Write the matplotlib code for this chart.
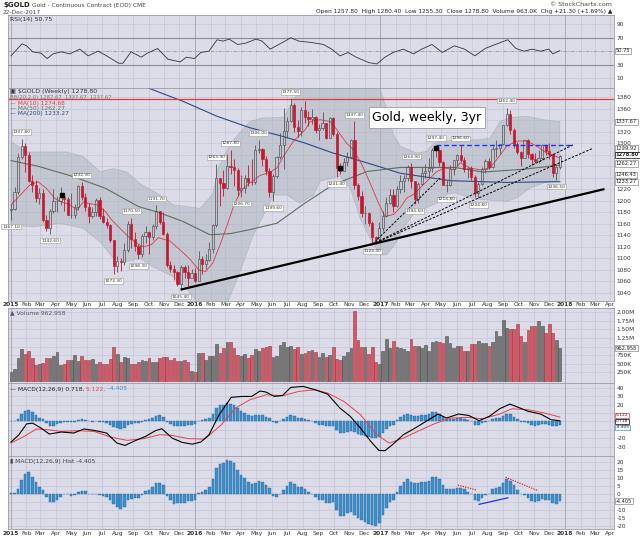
import numpy as np
import pandas as pd
import matplotlib
matplotlib.use("Agg")
import matplotlib.pyplot as plt

# weekly $GOLD bars: week ending Fri 2 Jan 2015 ... Fri 22 Dec 2017
opens = [1184, 1186, 1216, 1277, 1295, 1279, 1234, 1228, 1205, 1213, 1167, 1152, 1183, 1199, 1200, 1207, 1203, 1175,
         1176, 1189, 1225, 1206, 1190, 1173, 1180, 1201, 1173, 1164, 1158, 1131, 1086, 1095, 1094, 1114, 1160, 1134,
         1121, 1108, 1139, 1146, 1137, 1156, 1182, 1163, 1142, 1088, 1081, 1076, 1056, 1085, 1076, 1065, 1075,
         1060, 1098, 1090, 1097, 1116, 1158, 1239, 1231, 1222, 1260, 1259, 1254, 1218, 1222, 1239, 1233, 1232, 1289,
         1290, 1273, 1252, 1216, 1243, 1276, 1297, 1322, 1339, 1366, 1328, 1322, 1358, 1345, 1343, 1345, 1324, 1327,
         1335, 1310, 1344, 1317, 1257, 1252, 1267, 1276, 1305, 1227, 1209, 1178, 1178, 1161, 1137, 1134,
         1152, 1173, 1197, 1210, 1191, 1220, 1234, 1240, 1258, 1234, 1204, 1230, 1249, 1251, 1257, 1289, 1289, 1268,
         1228, 1228, 1256, 1271, 1280, 1271, 1256, 1257, 1242, 1213, 1229, 1255, 1269, 1258, 1290, 1292, 1298, 1331,
         1351, 1324, 1298, 1285, 1275, 1305, 1281, 1272, 1269, 1274, 1297, 1287, 1281, 1248, 1258]
highs = [1194, 1224, 1283, 1308, 1300, 1285, 1245, 1236, 1223, 1221, 1175, 1186, 1220, 1208, 1224, 1209, 1207, 1214,
         1194, 1227, 1232, 1214, 1196, 1190, 1205, 1206, 1187, 1170, 1160, 1131, 1104, 1100, 1126, 1165, 1170, 1146,
         1125, 1143, 1157, 1147, 1159, 1192, 1182, 1180, 1145, 1095, 1089, 1078, 1089, 1088, 1088, 1082, 1083,
         1112, 1104, 1108, 1128, 1160, 1264, 1240, 1253, 1282, 1288, 1272, 1257, 1245, 1245, 1262, 1272, 1297, 1306,
         1291, 1278, 1257, 1246, 1278, 1318, 1362, 1345, 1378, 1370, 1340, 1364, 1373, 1357, 1360, 1348, 1334, 1355,
         1336, 1345, 1346, 1320, 1265, 1275, 1285, 1308, 1338, 1231, 1217, 1191, 1181, 1165, 1138, 1163,
         1182, 1207, 1220, 1221, 1226, 1245, 1245, 1263, 1265, 1235, 1232, 1259, 1264, 1274, 1291, 1297, 1290, 1270,
         1236, 1262, 1271, 1282, 1297, 1276, 1259, 1260, 1245, 1233, 1258, 1272, 1275, 1295, 1306, 1298, 1332, 1362,
         1358, 1326, 1302, 1286, 1306, 1307, 1284, 1284, 1288, 1298, 1299, 1300, 1283, 1263, 1280]
lows = [1167, 1184, 1211, 1273, 1250, 1232, 1216, 1198, 1195, 1163, 1147, 1143, 1179, 1180, 1192, 1183, 1175, 1170,
        1170, 1184, 1201, 1182, 1162, 1170, 1173, 1168, 1162, 1152, 1128, 1072, 1077, 1078, 1088, 1111, 1118, 1112,
        1098, 1102, 1126, 1108, 1131, 1151, 1160, 1140, 1085, 1077, 1062, 1052, 1045, 1066, 1050, 1065, 1058,
        1060, 1073, 1082, 1096, 1110, 1155, 1191, 1208, 1220, 1247, 1226, 1208, 1207, 1213, 1226, 1227, 1230, 1283,
        1260, 1245, 1207, 1200, 1240, 1272, 1256, 1309, 1337, 1320, 1311, 1313, 1335, 1330, 1333, 1318, 1305, 1323,
        1308, 1310, 1313, 1241, 1247, 1251, 1260, 1275, 1220, 1202, 1172, 1160, 1156, 1124, 1125, 1130,
        1148, 1172, 1194, 1181, 1190, 1214, 1216, 1235, 1223, 1195, 1197, 1228, 1240, 1240, 1250, 1276, 1260, 1227,
        1215, 1226, 1245, 1260, 1267, 1250, 1240, 1236, 1207, 1205, 1228, 1248, 1256, 1257, 1276, 1281, 1297, 1330,
        1317, 1291, 1282, 1261, 1274, 1275, 1263, 1265, 1265, 1271, 1280, 1273, 1242, 1237, 1255]
closes = [1186, 1216, 1277, 1295, 1279, 1234, 1228, 1205, 1213, 1167, 1152, 1183, 1199, 1200, 1207, 1203, 1175, 1176,
          1189, 1225, 1206, 1190, 1173, 1180, 1201, 1173, 1164, 1158, 1131, 1086, 1095, 1094, 1114, 1160, 1134, 1121,
          1108, 1139, 1146, 1137, 1156, 1182, 1163, 1142, 1088, 1081, 1076, 1056, 1085, 1076, 1065, 1075, 1060,
          1098, 1090, 1097, 1116, 1158, 1239, 1231, 1222, 1260, 1259, 1254, 1218, 1222, 1239, 1233, 1232, 1289, 1290,
          1273, 1252, 1216, 1243, 1276, 1297, 1322, 1339, 1366, 1328, 1322, 1358, 1345, 1343, 1345, 1324, 1327, 1335,
          1310, 1344, 1317, 1257, 1252, 1267, 1276, 1305, 1227, 1209, 1178, 1178, 1161, 1137, 1134, 1152,
          1173, 1197, 1210, 1191, 1220, 1234, 1240, 1258, 1234, 1204, 1230, 1249, 1251, 1257, 1289, 1289, 1268, 1228,
          1228, 1256, 1271, 1280, 1271, 1256, 1257, 1242, 1213, 1229, 1255, 1269, 1258, 1290, 1292, 1298, 1331, 1351,
          1324, 1298, 1285, 1275, 1305, 1281, 1272, 1269, 1274, 1297, 1287, 1281, 1248, 1258, 1278.8]
volume_m = [0.27, 0.36, 0.67, 0.94, 0.78, 0.86, 0.67, 0.46, 0.48, 0.52, 0.67, 0.66, 0.72, 0.84, 0.47, 0.50, 0.60, 0.60,
            0.74, 0.57, 0.72, 0.62, 0.62, 0.64, 0.48, 0.54, 0.50, 0.50, 0.64, 0.98, 0.78, 0.56, 0.70, 0.68, 0.50, 0.50,
            0.54, 0.60, 0.58, 0.68, 0.56, 0.56, 0.68, 0.70, 0.70, 0.62, 0.68, 0.58, 0.58, 0.62, 0.56, 0.30, 0.27,
            0.80, 0.80, 0.62, 0.72, 0.72, 1.06, 0.80, 0.95, 1.12, 1.12, 0.95, 0.75, 0.72, 0.78, 0.66, 0.76, 0.92, 0.88,
            0.95, 1.00, 1.02, 0.70, 0.72, 1.05, 1.12, 1.00, 1.02, 0.92, 1.00, 0.78, 0.82, 0.86, 0.90, 0.85, 0.70, 0.82,
            0.70, 0.76, 1.00, 0.65, 0.60, 0.72, 0.85, 0.95, 2.02, 1.20, 1.00, 1.00, 0.78, 0.98, 0.55, 0.50,
            0.88, 1.22, 0.95, 1.15, 0.98, 0.96, 0.92, 0.88, 1.22, 1.02, 1.02, 0.95, 1.05, 0.86, 1.12, 1.15, 1.12, 1.10,
            1.30, 1.10, 0.95, 1.02, 1.02, 0.88, 0.88, 1.06, 1.08, 1.15, 1.10, 1.10, 1.02, 1.12, 1.45, 1.30, 1.77, 1.55,
            1.50, 1.50, 1.65, 1.30, 1.12, 1.48, 1.60, 1.60, 1.73, 1.60, 1.40, 1.65, 1.38, 1.18, 0.963]
macd_hist = [0.8, 1.0, 3.0, 8.9, 12.7, 13.8, 11.0, 7.8, 4.2, 2.5, -1.7, -4.9, -4.9, -3.4, -1.7, -0.2, -0.2, -1.3,
             -0.8, 1.5, 2.3, 1.7, 0.0, -0.2, 0.4, -0.4, -1.0, -1.7, -3.8, -6.4, -8.0, -9.5, -8.0, -3.8, -2.8, -2.1,
             -2.1, -0.6, 2.1, 2.5, 4.2, 6.8, 7.2, 5.7, -1.1, -3.4, -5.9, -5.5, -5.5, -5.3, -4.2, -4.2, -3.4,
             0.8, 1.1, 2.5, 4.2, 9.3, 16.3, 19.0, 19.5, 21.6, 21.0, 19.9, 15.3, 11.9, 10.0, 7.8, 6.1, 7.2, 8.0,
             7.4, 5.7, 3.6, -1.3, -1.7, 0.4, 2.5, 5.1, 7.6, 6.1, 4.2, 4.2, 3.2, 1.5, 0.4, -1.7, -3.8, -3.8,
             -5.3, -5.3, -4.9, -10.0, -13.5, -14.0, -12.0, -11.0, -13.0, -15.0, -16.0, -17.5, -18.5, -19.5, -20.0, -18.0,
             -13.3, -8.5, -4.9, -3.8, 1.5, 5.1, 7.8, 9.3, 7.8, 6.8, 6.8, 7.6, 7.8, 8.5, 10.6, 11.0, 9.3, 5.7,
             3.0, 3.0, 3.4, 4.0, 4.0, 3.0, 1.5, 0.0, -3.8, -4.2, -2.1, -0.8, 0.4, 3.0, 3.6, 4.2, 6.8, 9.3,
             8.5, 5.7, 2.5, -0.2, -0.4, -2.5, -4.2, -5.1, -4.2, -3.2, -3.4, -3.8, -5.5, -5.9, -4.405]

# indicator lines at sample weeks
ma10_wk = [0, 5.4, 7.7, 10.1, 12.4, 14.3, 16.7, 18.6, 20.4, 22.3, 24.2, 26.6, 28.4, 30.8, 33.1, 35.5, 37.4, 39.7,
           41.6, 44.9, 47.7, 50.6, 53, 55, 57, 59, 61, 63, 65, 67.5, 70.3, 73.2, 75.1, 76.9, 79.7, 83.1, 84.5, 87.3,
           90.1, 92, 94.8, 96.7, 99.1, 101.4, 103.8, 105.6, 108, 109.9, 111.8, 113.6, 115.5, 117.9, 120.3, 122.6,
           125.4, 126.8, 129.7, 132.5, 135.3, 137.2, 140, 142.9, 145.7, 148.5, 151.3, 155]
ma10_val = [1193, 1228, 1233, 1221, 1204, 1198, 1193, 1184, 1198, 1195, 1193, 1182, 1167, 1152, 1138, 1126, 1120, 1124,
            1136, 1130, 1115, 1098, 1080, 1077, 1092, 1123, 1157, 1193, 1218, 1231, 1244, 1250, 1257, 1277, 1303,
            1324, 1338, 1341, 1338, 1324, 1300, 1289, 1263, 1231, 1196, 1173, 1176, 1188, 1205, 1211, 1222, 1237,
            1251, 1257, 1254, 1266, 1257, 1254, 1257, 1272, 1295, 1304, 1304, 1295, 1283, 1274.68]
ma50_wk = [0, 7.7, 17.1, 26.6, 36, 41.6, 48.6, 56.2, 62, 67.5, 75.1, 83, 91, 100.6, 109.9, 118, 125.4, 133.3, 145, 155]
ma50_val = [1270, 1260, 1243, 1222, 1190, 1180, 1164, 1141, 1143, 1150, 1161, 1196, 1228, 1251, 1258, 1258, 1258,
            1250, 1255, 1262.27]
ma200_wk = [35, 48.6, 58.2, 67.5, 76.8, 83, 91, 100.6, 109.9, 124, 140, 155]
ma200_val = [1405, 1373, 1347, 1327, 1312, 1300.5, 1283, 1266, 1248, 1235, 1232, 1233.27]
bb_up_wk = [0, 4.4, 15.7, 20.4, 25.1, 28.9, 32.7, 36.4, 42.1, 45.8, 53.4, 57, 58.5, 62, 67.5, 71, 77, 80, 83, 104,
            106, 108, 110, 114.6, 117.4, 119.3, 125.4, 131.6, 135.3, 138.1, 141, 145.7, 150.4, 155]
bb_up_val = [1303, 1285, 1285, 1277, 1251, 1256, 1250, 1230, 1210, 1193, 1187, 1212, 1257, 1300, 1338, 1344, 1345,
             1378, 1400, 1400, 1361, 1315, 1295, 1283, 1286, 1300, 1306, 1306, 1309, 1338, 1345, 1347, 1341, 1337.67]
bb_lo_wk = [0, 6.3, 13.8, 20.4, 25.1, 28.9, 32.7, 36.4, 40.2, 45.8, 49.6, 53, 58, 61, 64.7, 68.4, 71.3, 74.1, 77.9,
            81.6, 85.4, 87.3, 92.9, 95.8, 98.6, 101.4, 104.2, 106.1, 109, 110.8, 113.6, 117.4, 120.3, 123.1, 125.4,
            129.7, 133.4, 140, 142.9, 146.6, 150.4, 155]
bb_lo_val = [1158, 1155, 1161, 1152, 1129, 1100, 1094, 1100, 1085, 1068, 1048, 1020, 1015, 1020, 1077, 1140, 1175,
             1210, 1210, 1196, 1210, 1234, 1243, 1222, 1170, 1135, 1106, 1106, 1130, 1153, 1176, 1188, 1196, 1211,
             1214, 1205, 1202, 1199, 1205, 1222, 1231, 1236]
rsi_wk = [0, 3.1, 4.4, 6.1, 8.5, 10.2, 11.9, 14.2, 16.6, 19.4, 21.8, 24.6, 27, 30.4, 31.6, 33.9, 36.8, 38.5, 41.4,
          44.3, 47.8, 49.5, 51.8, 53.6, 55.9, 58.2, 59.9, 61.6, 64, 66.3, 69.2, 70.9, 73.2, 76.7, 79, 81.3, 84.8,
          88.2, 90.6, 92.9, 95.2, 97.5, 101, 103.3, 105.6, 107.9, 110.8, 113.7, 116, 118.9, 121.8, 125.2, 128.1,
          131, 133.9, 136.8, 140.3, 142.6, 144.9, 147.2, 149.5, 151.9, 153, 155]
rsi_val = [43, 61, 58, 49, 47, 39, 46, 49, 46, 53, 43, 50, 43, 32, 32, 49, 41, 47, 54, 38, 34, 41, 39, 48, 50, 67, 65,
           68, 60, 62, 68, 65, 53, 63, 70, 65, 63, 60, 53, 43, 48, 41, 33, 31, 41, 48, 53, 46, 53, 60, 48, 58, 53,
           43, 54, 60, 67, 54, 50, 53, 50, 53, 46, 50.75]
macd_wk = [0, 2.2, 4.4, 6.1, 8.5, 10.8, 14.2, 17.7, 20.6, 23.5, 27, 29.9, 32.2, 35, 38, 40.8, 42.6, 45.5, 48.4, 51.2,
           53.6, 55.9, 58.8, 62.2, 65.1, 68, 70.3, 72, 74.4, 76.7, 79, 82.5, 85.9, 89.4, 92.9, 95.8, 98.7, 101.6,
           103.9, 105.6, 107.9, 110.8, 113.7, 117.2, 120.6, 123, 126.4, 129.3, 132.2, 135.1, 138, 140.9, 143.3,
           146.1, 149.6, 152.5, 155]
macd_val = [-24.5, -16, -3, -2, -8, -15, -12.6, -13.8, -9, -10.7, -13.8, -25.7, -28.5, -23, -17.8, -11, -8.7, -19.8,
            -25, -27, -24.5, -16, 8, 28.5, 29.6, 29.6, 36, 34.8, 29.6, 30.8, 40.3, 41.5, 37.5, 32.4, 15.8, 6, -8,
            -23.7, -34.4, -34.8, -27, -15.8, -9, 0, 8.7, 4, 8.7, 7, 0.8, 6, 15, 20.5, 16.6, 11.9, 8.7, 2, 0.718]
signal_wk = [0, 3.7, 7.2, 10.6, 14.2, 18.9, 23.5, 28.1, 32.8, 37.4, 42, 45.5, 50.1, 54.7, 59.4, 63.4, 67.5, 72.1,
             76.7, 81.3, 85.9, 89.4, 94, 98.7, 103.3, 106.8, 110.8, 114.8, 119.5, 124.1, 128.8, 133.4, 138, 141.5,
             146.1, 150.7, 155]
signal_val = [-25.7, -17.8, -9, -10, -11.9, -11, -11.9, -18.6, -22.5, -20.5, -15.8, -16.6, -20.5, -21, -4, 15.8,
              25.7, 31.6, 30.4, 35.6, 37.5, 33.6, 23.7, 8, -15.8, -25.7, -19.8, -11.9, -3, 4, 4.7, 3.2, 8.7, 15,
              13.8, 9.9, 5.122]

# price flags on swing highs / lows (week, value)
high_flags = [(3, 1307.80), (20, 1232.30), (34, 1170.50), (41, 1191.70), (58, 1263.90), (62, 1287.80),
              (70, 1306.00), (79, 1377.50), (97, 1337.40), (113, 1264.90), (120, 1297.40), (127, 1296.60),
              (140, 1362.40)]
low_flags = [(0, 1167.10), (11, 1142.60), (29, 1072.30), (36, 1098.30), (48, 1045.40), (65, 1206.70),
             (74, 1199.60), (92, 1241.40), (102, 1124.30), (114, 1194.50), (123, 1214.80), (132, 1204.80),
             (154, 1236.50)]

# drawn trendlines (week, price)
support_line = [(48.2, 1046), (167.3, 1220)]
fan_lines = [[(102, 1124.3), (121.2, 1239.7)], [(102, 1124.3), (158.8, 1297.6)],
             [(102, 1124.3), (164.4, 1291.5)]]
resist_line = [(120, 1297.4), (158.8, 1297.4)]
markers = [(14.5, 1209.6), (93, 1257), (120, 1291)]
hist_red_lines = [[(126.2, 5.7), (131.6, 2.5)], [(139.7, 10.6), (148.9, 2.1)]]
hist_blue_line = [(132.2, -6.4), (140.3, -2.3)]

BG = "#dcdce9"
GRID = "#c6c6d8"
X0, X1 = -0.85, 170.3
FS = 4.2
TFS = 3.7

weeks = np.arange(len(closes))
o, h, l, c = map(np.array, (opens, highs, lows, closes))

start = pd.Timestamp("2015-01-02")
months = pd.date_range("2015-01-01", "2018-04-01", freq="MS")
mpos = np.asarray((months - start).days) / 7.0
mlab = [str(m.year) if m.month == 1 else m.strftime("%b") for m in months]
ypos = [p for p, m in zip(mpos, months) if m.month == 1]

fig = plt.figure(figsize=(6.4, 5.38), dpi=100)
fig.patch.set_facecolor("white")


def px(x, y):
    return x / 640.0, 1.0 - y / 538.0


def panel(top, bottom):
    return fig.add_axes([8 / 640, 1 - bottom / 538, 606 / 640, (bottom - top) / 538])


def base(a, ylim, ticks, labels):
    a.set_facecolor(BG)
    a.set_xlim(X0, X1)
    a.set_ylim(*ylim)
    a.set_xticks(mpos)
    a.set_xticklabels([])
    a.tick_params(axis="x", length=0, pad=1.2)
    a.yaxis.tick_right()
    a.set_yticks(ticks)
    a.set_yticklabels(labels, fontsize=FS, color="#333333")
    a.tick_params(axis="y", length=0, pad=2)
    a.grid(True, color=GRID, lw=0.5)
    a.set_axisbelow(True)
    for yp in ypos:
        a.axvline(yp, color="#a9a9bd", lw=0.7, zorder=0.6)
    for s in a.spines.values():
        s.set_color("#9a9aaa")
        s.set_linewidth(0.6)


def month_labels(a):
    a.set_xticklabels(mlab, fontsize=FS, color="#333333")
    for t in a.get_xticklabels():
        if t.get_text().isdigit():
            t.set_fontweight("bold")


def tag(a, y, s, ec="#8a8a8a", color="#222222", weight="normal", size=TFS):
    a.text(1.003, y, s, transform=a.get_yaxis_transform(), fontsize=size, va="center", ha="left",
           color=color, weight=weight, clip_on=False,
           bbox=dict(boxstyle="square,pad=0.12", fc="white", ec=ec, lw=0.5))


# ---------------- header ----------------
fig.text(*px(3, 5), r"\$GOLD", fontsize=5.0, weight="bold", va="center", color="#222")
fig.text(*px(32, 5), "Gold - Continuous Contract (EOD) CME", fontsize=4.2, va="center", color="#444")
fig.text(*px(3, 12), "22-Dec-2017", fontsize=4.2, va="center", color="#444")
fig.text(*px(612, 5), "© StockCharts.com", fontsize=4.5, va="center", ha="right", color="#444")
fig.text(*px(612, 12), "Open 1257.80  High 1280.40  Low 1255.30  Close 1278.80  Volume 963.0K  Chg +21.30 (+1.69%) ▲",
         fontsize=4.2, va="center", ha="right", color="#222")

# ---------------- RSI ----------------
ax_rsi = panel(15, 88)
base(ax_rsi, (-4.9, 103.9), [10, 30, 50, 70, 90], ["10", "30", "", "70", "90"])
ax_rsi.axhline(70, color="#8c8c98", lw=0.8)
ax_rsi.axhline(30, color="#8c8c98", lw=0.8)
ax_rsi.axhline(50, color="#9a9aa6", lw=0.6, ls=(0, (4, 2, 1, 2)))
ax_rsi.plot(rsi_wk, rsi_val, color="#333333", lw=0.6)
tag(ax_rsi, 50.75, "50.75")
fig.text(*px(10, 19), "RSI(14) 50.75", fontsize=4.5, va="center", color="#333")

# ---------------- price ----------------
ax = panel(88, 300.7)
pticks = np.arange(1040, 1381, 20)
plabs = ["" if t in (1240, 1260, 1280, 1340) else str(t) for t in pticks]
base(ax, (1026.3, 1396.2), pticks, plabs)
month_labels(ax)

ax.fill(np.r_[bb_up_wk, bb_lo_wk[::-1]], np.r_[bb_up_val, bb_lo_val[::-1]],
        fc="#aeb6c0", ec="#9aa2ae", lw=0.5, alpha=0.55, zorder=1)
ax.plot(ma200_wk, ma200_val, color="#2d4a86", lw=0.8, zorder=2)
ax.plot(ma50_wk, ma50_val, color="#5f6f62", lw=0.8, zorder=2)
ax.plot(ma10_wk, ma10_val, color="#e0384a", lw=0.6, zorder=2)
ax.axhline(1377.5, color="#e23a3a", lw=0.9, zorder=2)

up = c >= o
body_lo = np.minimum(o, c)
body_hi = np.maximum(o, c)
edge = np.where(up, "#555555", "#c8102e")
ax.vlines(weeks, l, body_lo, colors=edge, lw=0.6, zorder=3)
ax.vlines(weeks, body_hi, h, colors=edge, lw=0.6, zorder=3)
ax.bar(weeks[up], (body_hi - body_lo)[up], bottom=body_lo[up], width=0.62,
       fc="none", ec="#555555", lw=0.5, zorder=3)
ax.bar(weeks[~up], (body_hi - body_lo)[~up], bottom=body_lo[~up], width=0.62,
       fc="#d2102c", ec="#b00e24", lw=0.4, zorder=3)

(x1, y1), (x2, y2) = support_line
ax.plot([x1, x2], [y1, y2], color="black", lw=1.6, zorder=4)
for (xa, ya), (xb, yb) in fan_lines:
    ax.plot([xa, xb], [ya, yb], color="black", lw=0.7, ls=(0, (2.5, 1.5)), zorder=4)
ax.plot([p[0] for p in resist_line], [p[1] for p in resist_line], color="#1a33ff", lw=1.0,
        ls=(0, (3.5, 2)), zorder=4)
for mx, my in markers:
    ax.plot(mx, my, "s", ms=2.4, color="black", zorder=5)

flag_box = dict(boxstyle="square,pad=0.15", fc="white", ec="#9a9a9a", lw=0.4)
for wk, v in high_flags:
    ax.annotate(f"{v:.2f}", xy=(wk, v), xytext=(0, 3.5), textcoords="offset points", ha="center",
                va="bottom", fontsize=3.2, color="#333", bbox=flag_box, zorder=6)
for wk, v in low_flags:
    ax.annotate(f"{v:.2f}", xy=(wk, v), xytext=(0, -3.5), textcoords="offset points", ha="center",
                va="top", fontsize=3.2, color="#333", bbox=flag_box, zorder=6)

ax.text(117.5, 1344.9, "Gold, weekly, 3yr", fontsize=9, ha="center", va="center", color="black", zorder=7,
        bbox=dict(boxstyle="square,pad=0.3", fc="white", ec="#9a9a9a", lw=0.6))

tag(ax, 1337.67, "1337.67")
tag(ax, 1291, "1299.92")
tag(ax, 1280, "1278.80", ec="black", weight="bold")
tag(ax, 1265, "1262.27")
tag(ax, 1245, "1246.43")
tag(ax, 1233, "1233.27")

fig.text(*px(10, 92), r"▣ \$GOLD (Weekly) 1278.80", fontsize=4.5, va="center", color="#333")
fig.text(*px(10, 97.5), "BB(20,2.0) 1287.67  1337.67  1237.67", fontsize=3.8, va="center", color="#777")
fig.text(*px(10, 103), "— MA(10) 1274.68", fontsize=4.2, va="center", color="#e0384a")
fig.text(*px(10, 108.5), "— MA(50) 1262.27", fontsize=4.2, va="center", color="#5f6f62")
fig.text(*px(10, 114), "— MA(200) 1233.27", fontsize=4.2, va="center", color="#2d4a86")

# ---------------- volume ----------------
ax_vol = panel(308.3, 382.7)
vticks = [0.25, 0.5, 0.75, 1.0, 1.25, 1.5, 1.75, 2.0]
base(ax_vol, (-0.05, 2.11), vticks, ["250K", "500K", "750K", "", "1.25M", "1.50M", "1.75M", "2.00M"])
prev = np.r_[c[0], c[:-1]]
vcol = np.where(c < prev, "#cf5a68", "#777777")
vedge = np.where(c < prev, "#a8303e", "#505050")
ax_vol.bar(weeks, volume_m, width=0.78, color=vcol, edgecolor=vedge, lw=0.4, zorder=2)
tag(ax_vol, 0.963, "962,958")
fig.text(*px(10, 313), "▲ Volume 962,958", fontsize=4.3, va="center", color="#555")

# ---------------- MACD ----------------
ax_macd = panel(382.7, 455.7)
mticks = [-30, -20, -10, 0, 10, 20, 30, 40]
base(ax_macd, (-40.7, 45.9), mticks, ["-30", "-20", "", "", "", "20", "30", "40"])
ax_macd.bar(weeks, macd_hist, width=0.72, color="#3e8fca", edgecolor="#256a9c", lw=0.3, zorder=2)
ax_macd.plot(signal_wk, signal_val, color="#e8404a", lw=0.7, zorder=3)
ax_macd.plot(macd_wk, macd_val, color="black", lw=0.8, zorder=4)
tag(ax_macd, 7.2, "5.122", ec="#e8404a", size=3.2)
tag(ax_macd, 0.0, "0.718", ec="black", size=3.2)
tag(ax_macd, -7.2, "-4.405", ec="#3e8fca", size=3.2)
t1 = fig.text(*px(10, 389), "— MACD(12,26,9) 0.718,", fontsize=4.3, va="center", color="#222")
t2 = fig.text(0, 0, " 5.122,", fontsize=4.3, va="center", color="#e8404a")
t3 = fig.text(0, 0, " -4.405", fontsize=4.3, va="center", color="#3e8fca")
fig.canvas.draw()
r = fig.canvas.get_renderer()
bb1 = t1.get_window_extent(r).transformed(fig.transFigure.inverted())
t2.set_position((bb1.x1, 1 - 389 / 538))
fig.canvas.draw()
bb2 = t2.get_window_extent(r).transformed(fig.transFigure.inverted())
t3.set_position((bb2.x1, 1 - 389 / 538))

# ---------------- MACD histogram ----------------
ax_h = panel(455.7, 529.3)
hticks = [-20, -15, -10, -5, 0, 5, 10, 15, 20]
base(ax_h, (-22.1, 24.2), hticks, ["-20", "-15", "-10", "", "0", "5", "10", "15", "20"])
month_labels(ax_h)
ax_h.bar(weeks, macd_hist, width=0.72, color="#3e8fca", edgecolor="#256a9c", lw=0.3, zorder=2)
for (xa, ya), (xb, yb) in hist_red_lines:
    ax_h.plot([xa, xb], [ya, yb], color="#e02020", lw=0.9, ls=(0, (1, 1)), zorder=3)
ax_h.plot([p[0] for p in hist_blue_line], [p[1] for p in hist_blue_line], color="#1a33ff", lw=0.9, zorder=3)
tag(ax_h, -4.405, "-4.405")
fig.text(*px(10, 461), "▮ MACD(12,26,9) Hist -4.405", fontsize=4.3, va="center", color="#444")

fig.savefig("out.png", dpi=100, facecolor="white")
